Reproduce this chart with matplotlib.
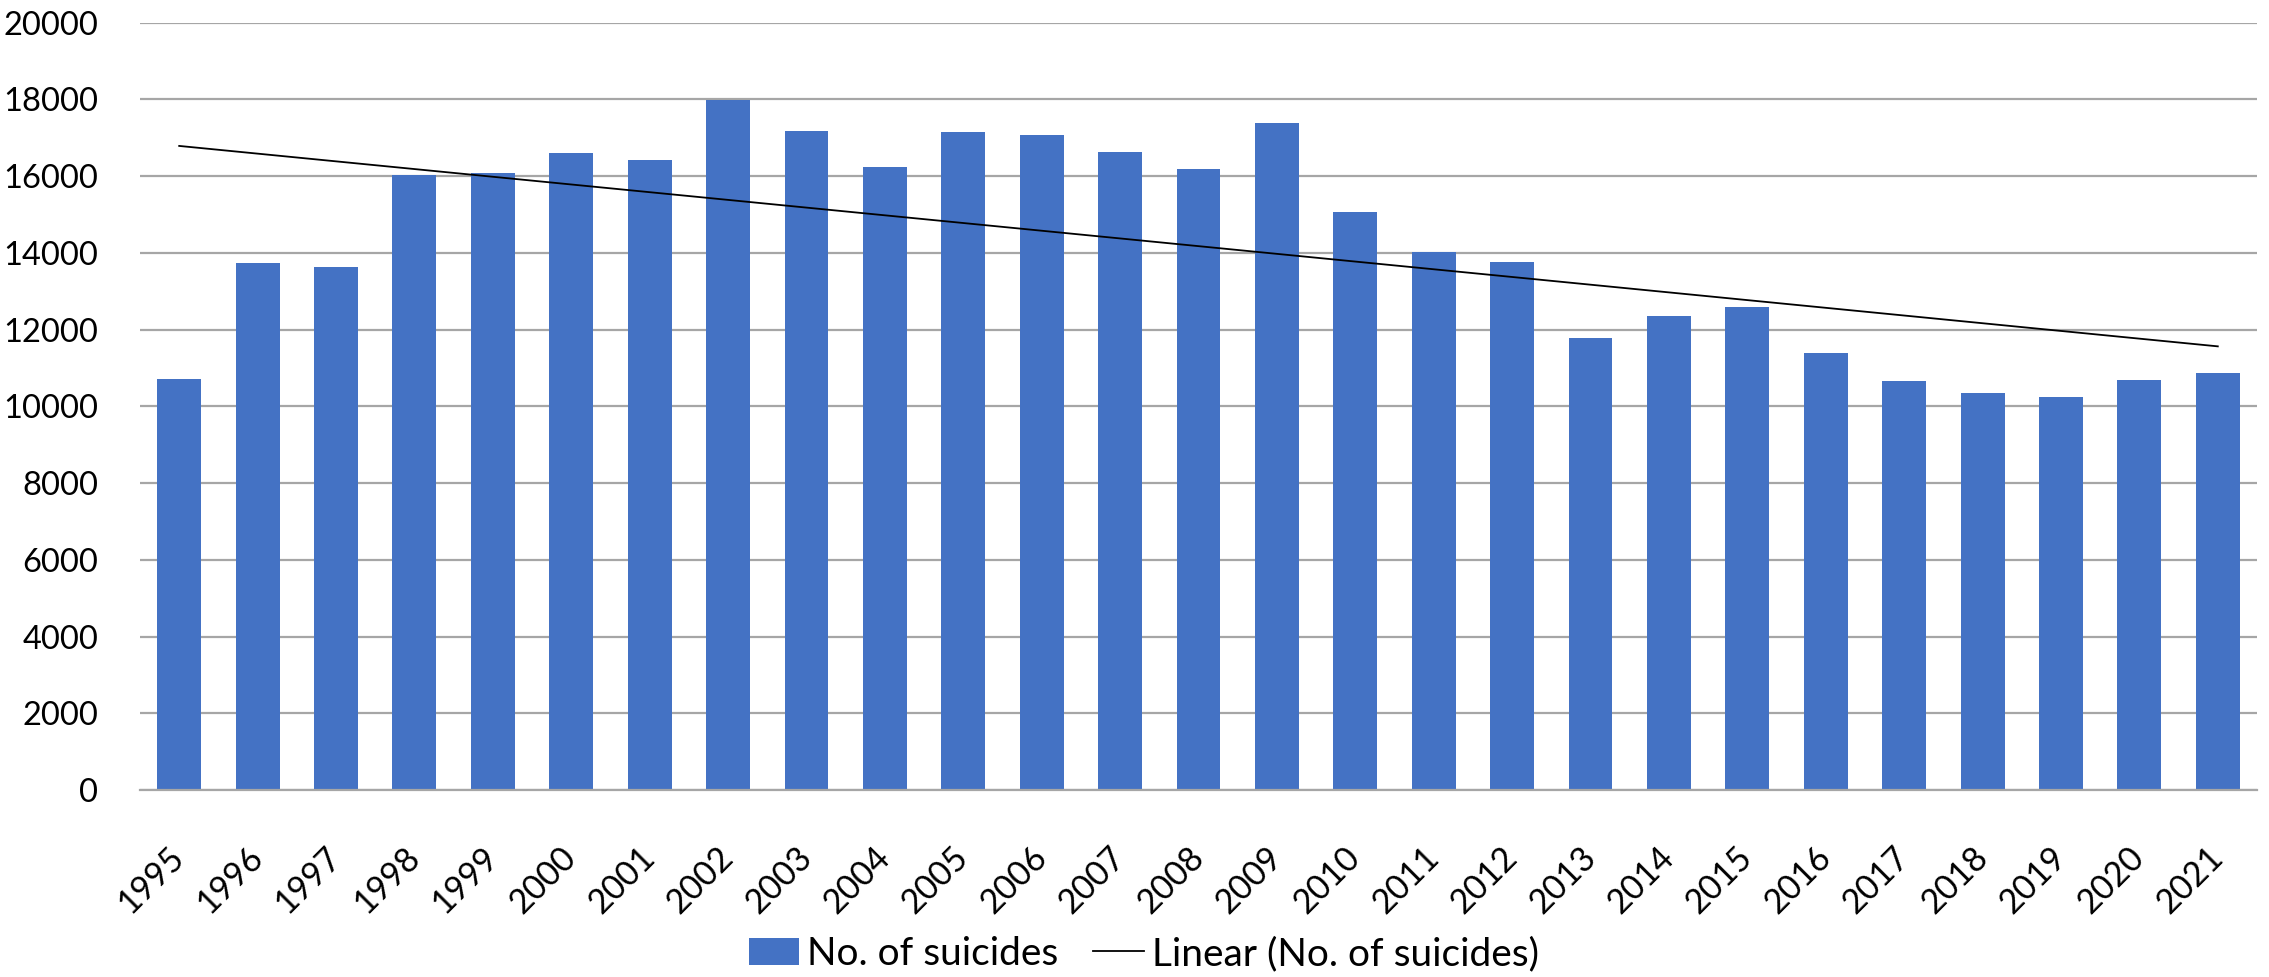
import numpy as np
import matplotlib
matplotlib.use("Agg")
import matplotlib.pyplot as plt
from matplotlib.lines import Line2D
from matplotlib.patches import Patch

years = [1995, 1996, 1997, 1998, 1999, 2000, 2001, 2002, 2003, 2004,
         2005, 2006, 2007, 2008, 2009, 2010, 2011, 2012, 2013, 2014,
         2015, 2016, 2017, 2018, 2019, 2020, 2021]
suicides = [10704, 13729, 13624, 16023, 16076, 16605, 16422, 17987, 17171, 16240,
            17145, 17066, 16639, 16196, 17379, 15067, 14024, 13755, 11773, 12355,
            12598, 11382, 10652, 10347, 10235, 10678, 10876]
y_ticks = [0, 2000, 4000, 6000, 8000, 10000, 12000, 14000, 16000, 18000, 20000]

bar_color = "#4472C4"
grid_color = "#A6A6A6"
plt.rcParams["font.family"] = ["Lato", "DejaVu Sans"]

fig = plt.figure(figsize=(22.69, 9.77), dpi=100)
ax = fig.add_axes([140 / 2269, 1 - 790 / 977, 2117 / 2269, (790 - 22.7) / 977])

x = np.arange(len(years))
ax.bar(x, suicides, width=0.56, color=bar_color, zorder=2)

# linear trendline, fitted like Excel's
k, b = np.polyfit(x, suicides, 1)
ax.plot(x, k * x + b, color="black", linewidth=1.3, zorder=3)

ax.set_xlim(-0.5, len(years) - 0.5)
ax.set_ylim(0, 20000)
ax.set_yticks(y_ticks)
ax.set_yticklabels([str(v) for v in y_ticks], fontsize=23.5)
ax.yaxis.grid(True, color=grid_color, linewidth=1.6, zorder=0)
ax.set_axisbelow(True)
ax.tick_params(axis="y", length=0, pad=30)
ax.tick_params(axis="x", length=0, pad=45)
ax.set_xticks(x)
ax.set_xticklabels([str(y) for y in years], fontsize=24.5, rotation=45,
                   ha="right", va="center", rotation_mode="anchor")
for side in ["top", "right", "left"]:
    ax.spines[side].set_visible(False)
ax.spines["bottom"].set_color(grid_color)
ax.spines["bottom"].set_linewidth(1.6)

handles = [Patch(facecolor=bar_color, edgecolor="none"),
           Line2D([0], [0], color="black", linewidth=1.3)]
fig.legend(handles, ["No. of suicides", "Linear (No. of suicides)"],
           loc="center", bbox_to_anchor=(0.504, 1 - 954 / 977), ncol=2,
           frameon=False, fontsize=28, handlelength=1.3, handleheight=0.7,
           handletextpad=0.2, columnspacing=0.9)

fig.savefig("out.png", dpi=100)
